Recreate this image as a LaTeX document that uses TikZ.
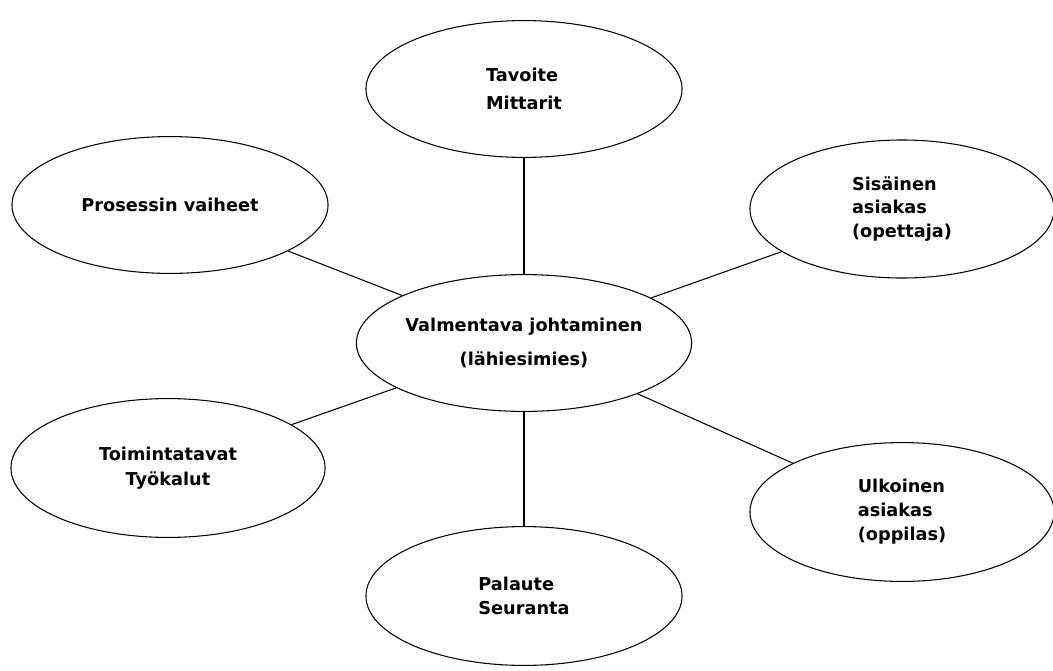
\documentclass[tikz,border=0pt]{standalone}
\usepackage{fontspec}
\setmainfont{DejaVu Sans}
\usetikzlibrary{shapes.geometric}
\tikzstyle{base}=[x=0.025cm, y=-0.025cm, line width=0.75pt]
\tikzstyle{bubble}=[draw, ellipse, inner sep=0pt, minimum width=7.9cm, minimum height=3.42cm,
  font=\fontsize{12.6}{17}\selectfont\bfseries]

\begin{document}
\begin{tikzpicture}[base]
        \path[use as bounding box] (0,0) rectangle (1053,671);
        \begin{scope}
        \clip (0,0) rectangle (1053,671);
        \node[bubble, align=center] (lead) at (524,343) {Valmentava johtaminen\\[7pt](lähiesimies)};
        \node[bubble, align=left] (goal) at (524,89) {Tavoite\\[3pt]Mittarit};
        \node[bubble] (process) at (170,205) {Prosessin vaiheet};
        \node[bubble, align=left, minimum width=7.6cm, minimum height=3.45cm] (inner) at (902,209) {Sisäinen\\asiakas\\(opettaja)};
        \node[bubble, align=center, minimum width=7.85cm, minimum height=3.47cm] (tools) at (168,468) {Toimintatavat\\[1pt]Työkalut};
        \node[bubble, align=left, minimum width=7.6cm, minimum height=3.47cm] (outer) at (902,512) {Ulkoinen\\asiakas\\(oppilas)};
        \node[bubble, align=left, minimum height=3.47cm] (feedback) at (524,596) {Palaute\\Seuranta};
        \end{scope}
        \draw (lead) -- (goal);
        \draw (lead) -- (process);
        \draw (lead) -- (inner);
        \draw (lead) -- (tools);
        \draw (lead) -- (outer);
        \draw (lead) -- (feedback);
    \end{tikzpicture}
\end{document}
